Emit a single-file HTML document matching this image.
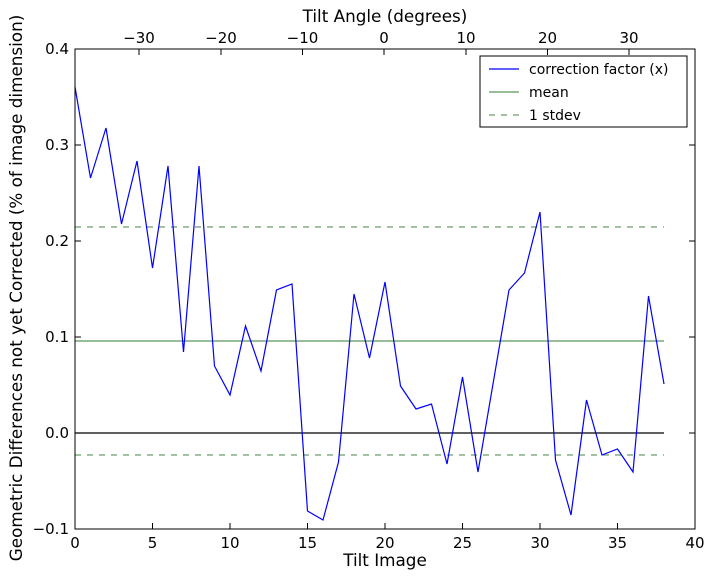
<!DOCTYPE html>
<html><head><meta charset="utf-8"><style>
html,body{margin:0;padding:0;background:#fff;}
svg{display:block;font-family:"DejaVu Sans","Liberation Sans",sans-serif;}
</style></head><body>
<svg width="714" height="579" viewBox="0 0 714 579" xmlns="http://www.w3.org/2000/svg">
<rect width="714" height="579" fill="#fff"/>
<g id="data">
<line x1="75" y1="227" x2="664" y2="227" stroke="#6a9e6a" stroke-width="1.2" stroke-dasharray="6,6"/>
<line x1="75" y1="455" x2="664" y2="455" stroke="#6a9e6a" stroke-width="1.2" stroke-dasharray="6,6"/>
<line x1="75" y1="341" x2="664" y2="341" stroke="#5a965a" stroke-width="1.2"/>
<line x1="75" y1="433" x2="664" y2="433" stroke="#000" stroke-width="1.2"/>
<polyline fill="none" stroke="#0000ff" stroke-width="1.2" points="75,87 90.5,178 106,128 121.5,224 137,161 152.5,268 168,166 183.5,352 199,166 214.5,366 230,395 245.5,326 261,371 276.5,290 292,284 307.5,511 323,520 338.5,462 354,294 369.5,358 385,282 400.5,386 416,409 431.5,404 447,464 462.5,377 478,472 493.5,381 509,290 524.5,273 540,212 555.5,460 571,515 586.5,400 602,455 617.5,449 633,472 648.5,296 664,384"/>
</g>
<rect x="75" y="49" width="620" height="480" fill="none" stroke="#000" stroke-width="1"/>
<g stroke="#000" stroke-width="1">
<line x1="75" y1="529" x2="75" y2="523"/><line x1="152.5" y1="529" x2="152.5" y2="523"/><line x1="230" y1="529" x2="230" y2="523"/><line x1="307.5" y1="529" x2="307.5" y2="523"/><line x1="385" y1="529" x2="385" y2="523"/><line x1="462.5" y1="529" x2="462.5" y2="523"/><line x1="540" y1="529" x2="540" y2="523"/><line x1="617.5" y1="529" x2="617.5" y2="523"/><line x1="695" y1="529" x2="695" y2="523"/>
<line x1="139" y1="49" x2="139" y2="55"/><line x1="221" y1="49" x2="221" y2="55"/><line x1="302.5" y1="49" x2="302.5" y2="55"/><line x1="384" y1="49" x2="384" y2="55"/><line x1="466" y1="49" x2="466" y2="55"/><line x1="547.5" y1="49" x2="547.5" y2="55"/><line x1="629" y1="49" x2="629" y2="55"/>
<line x1="75" y1="49" x2="81" y2="49"/><line x1="75" y1="145" x2="81" y2="145"/><line x1="75" y1="241" x2="81" y2="241"/><line x1="75" y1="337" x2="81" y2="337"/><line x1="75" y1="433" x2="81" y2="433"/><line x1="75" y1="529" x2="81" y2="529"/>
<line x1="695" y1="49" x2="689" y2="49"/><line x1="695" y1="145" x2="689" y2="145"/><line x1="695" y1="241" x2="689" y2="241"/><line x1="695" y1="337" x2="689" y2="337"/><line x1="695" y1="433" x2="689" y2="433"/><line x1="695" y1="529" x2="689" y2="529"/>
</g>
<g font-size="15" fill="#000" text-anchor="middle">
<text x="75" y="548">0</text><text x="152.5" y="548">5</text><text x="230" y="548">10</text><text x="307.5" y="548">15</text><text x="385" y="548">20</text><text x="462.5" y="548">25</text><text x="540" y="548">30</text><text x="617.5" y="548">35</text><text x="695" y="548">40</text>
<text x="139" y="43">−30</text><text x="221" y="43">−20</text><text x="302.5" y="43">−10</text><text x="384" y="43">0</text><text x="466" y="43">10</text><text x="547.5" y="43">20</text><text x="629" y="43">30</text>
</g>
<g font-size="16.8" fill="#000" text-anchor="middle">
<text x="385" y="566">Tilt Image</text>
<text x="385" y="22">Tilt Angle (degrees)</text>
<text transform="translate(22,288) rotate(-90)">Geometric Differences not yet Corrected (% of image dimension)</text>
</g>
<g font-size="15" fill="#000" text-anchor="end">
<text x="69" y="54">0.4</text><text x="69" y="150">0.3</text><text x="69" y="246">0.2</text><text x="69" y="342">0.1</text><text x="69" y="438">0.0</text><text x="69" y="534">−0.1</text>
</g>
<g>
<rect x="480" y="56" width="207" height="71" fill="#fff" stroke="#000" stroke-width="1"/>
<line x1="489" y1="69" x2="519" y2="69" stroke="#0000ff" stroke-width="1.2"/>
<line x1="489" y1="92" x2="519" y2="92" stroke="#5a965a" stroke-width="1.2"/>
<line x1="489" y1="115" x2="519" y2="115" stroke="#6a9e6a" stroke-width="1.2" stroke-dasharray="6,6"/>
<g font-size="14" fill="#000"><text x="529" y="74">correction factor (x)</text><text x="529" y="97">mean</text><text x="529" y="120">1 stdev</text></g>
</g>
</svg>
</body></html>
